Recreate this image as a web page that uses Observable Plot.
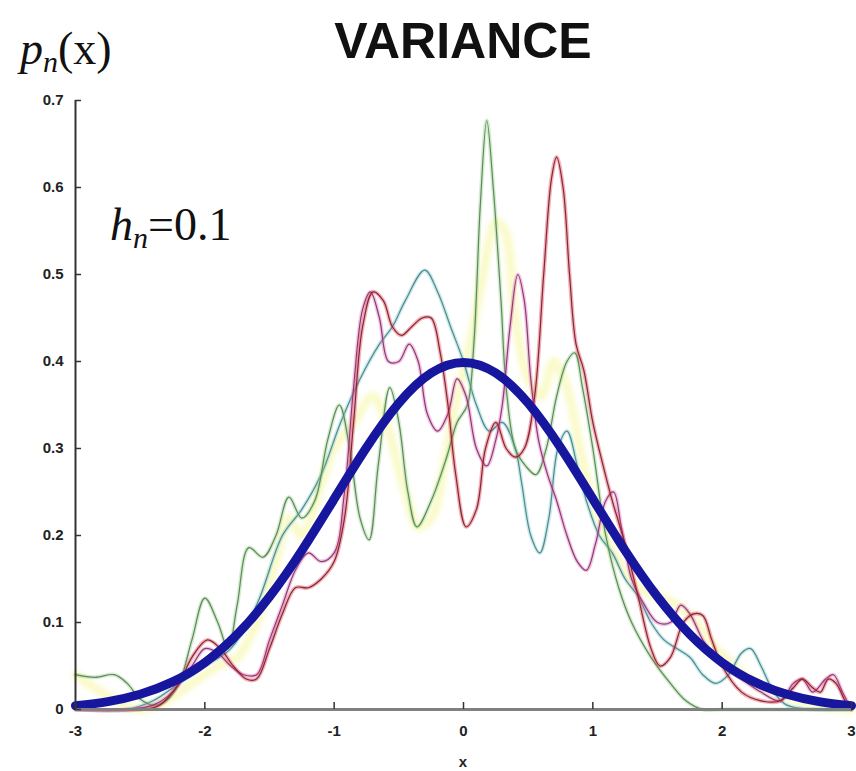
<!DOCTYPE html>
<html><head><meta charset="utf-8">
<script src="https://cdn.jsdelivr.net/npm/d3@7"></script>
<script src="https://cdn.jsdelivr.net/npm/@observablehq/plot@0.6"></script>
<style>
body{margin:0;background:#fff;}
#chart{width:856px;height:771px;}
</style></head><body>
<div id="chart"></div>
<script>
// Axis ticks
const xTicks = [-3, -2, -1, 0, 1, 2, 3];
const yTicks = [0, 0.1, 0.2, 0.3, 0.4, 0.5, 0.6, 0.7];
const titleText = "VARIANCE";
const xLabel = "x";

// True density (thick blue curve)
const xBlue = [-3,-2.75,-2.5,-2.25,-2,-1.75,-1.5,-1.25,-1,-0.75,-0.5,-0.25,0,0.25,0.5,0.75,1,1.25,1.5,1.75,2,2.25,2.5,2.75,3];
const yBlue = [0.0044,0.0091,0.0175,0.0317,0.054,0.0863,0.1295,0.1826,0.242,0.3011,0.3521,0.3867,0.3989,0.3867,0.3521,0.3011,0.242,0.1826,0.1295,0.0863,0.054,0.0317,0.0175,0.0091,0.0044];

// Parzen estimates, h_n = 0.1 (five samples)
const xRed = [-3,-2.5,-2.35,-2.2,-2.1,-1.98,-1.88,-1.78,-1.68,-1.6,-1.5,-1.4,-1.3,-1.2,-1.1,-1,-0.92,-0.85,-0.78,-0.7,-0.62,-0.55,-0.48,-0.4,-0.32,-0.25,-0.18,-0.12,-0.06,0.02,0.1,0.17,0.25,0.33,0.4,0.47,0.55,0.62,0.68,0.72,0.77,0.82,0.87,0.93,1,1.08,1.15,1.25,1.35,1.45,1.52,1.6,1.7,1.78,1.85,1.92,2,2.15,2.3,2.45,2.55,2.62,2.7,2.76,2.82,2.88,2.95,3];
const yRed = [0,0,0.005,0.03,0.06,0.08,0.07,0.05,0.035,0.035,0.07,0.11,0.14,0.14,0.15,0.17,0.22,0.33,0.44,0.48,0.47,0.44,0.43,0.44,0.45,0.45,0.41,0.35,0.27,0.21,0.23,0.3,0.33,0.3,0.29,0.3,0.36,0.5,0.61,0.635,0.6,0.5,0.42,0.39,0.33,0.28,0.24,0.19,0.13,0.07,0.05,0.06,0.1,0.11,0.108,0.08,0.05,0.02,0.01,0.01,0.025,0.035,0.025,0.02,0.035,0.03,0.01,0];

const xMagenta = [-3,-2.6,-2.4,-2.25,-2.1,-2,-1.9,-1.8,-1.7,-1.6,-1.5,-1.4,-1.3,-1.2,-1.1,-1,-0.92,-0.85,-0.78,-0.72,-0.65,-0.58,-0.5,-0.42,-0.35,-0.28,-0.2,-0.12,-0.05,0.02,0.1,0.18,0.25,0.3,0.36,0.42,0.47,0.52,0.58,0.65,0.72,0.8,0.88,0.95,1.02,1.1,1.16,1.22,1.3,1.4,1.5,1.6,1.68,1.75,1.85,1.95,2.05,2.15,2.3,2.45,2.55,2.62,2.7,2.8,2.86,2.93,3];
const yMagenta = [0,0,0.005,0.02,0.05,0.07,0.065,0.05,0.04,0.04,0.08,0.12,0.16,0.18,0.17,0.18,0.25,0.37,0.46,0.48,0.45,0.4,0.4,0.42,0.4,0.34,0.32,0.34,0.38,0.36,0.3,0.28,0.31,0.35,0.44,0.5,0.47,0.38,0.31,0.27,0.24,0.2,0.17,0.16,0.19,0.24,0.25,0.21,0.15,0.12,0.1,0.1,0.12,0.11,0.08,0.06,0.045,0.035,0.02,0.01,0.03,0.035,0.02,0.035,0.04,0.02,0];

const xGreen = [-3,-2.85,-2.7,-2.6,-2.5,-2.4,-2.3,-2.2,-2.1,-2,-1.9,-1.82,-1.75,-1.66,-1.55,-1.45,-1.35,-1.25,-1.15,-1.05,-0.96,-0.88,-0.8,-0.73,-0.66,-0.57,-0.5,-0.43,-0.36,-0.25,-0.13,-0.05,0.03,0.08,0.13,0.18,0.23,0.29,0.33,0.4,0.48,0.56,0.64,0.72,0.8,0.86,0.92,1,1.1,1.2,1.3,1.45,1.6,1.72,1.85,2,2.5,3];
const yGreen = [0.04,0.037,0.04,0.03,0.012,0.005,0.01,0.03,0.08,0.128,0.1,0.07,0.12,0.186,0.175,0.2,0.244,0.22,0.24,0.31,0.35,0.3,0.22,0.195,0.28,0.37,0.33,0.25,0.21,0.24,0.29,0.33,0.35,0.42,0.58,0.677,0.6,0.47,0.37,0.3,0.28,0.27,0.3,0.36,0.4,0.41,0.37,0.3,0.2,0.14,0.1,0.06,0.03,0.01,0,0,0,0];

const xCyan = [-3,-2.6,-2.4,-2.2,-2,-1.8,-1.6,-1.4,-1.25,-1.1,-0.95,-0.8,-0.65,-0.55,-0.45,-0.3,-0.2,-0.1,0,0.1,0.2,0.3,0.4,0.45,0.52,0.59,0.66,0.73,0.8,0.88,0.95,1.05,1.15,1.25,1.35,1.45,1.55,1.65,1.75,1.85,1.95,2.05,2.15,2.22,2.3,2.4,2.5,2.7,3];
const yCyan = [0,0,0.01,0.03,0.05,0.07,0.12,0.2,0.23,0.27,0.33,0.38,0.42,0.44,0.47,0.505,0.48,0.44,0.4,0.35,0.32,0.33,0.3,0.26,0.2,0.18,0.22,0.3,0.32,0.28,0.24,0.2,0.18,0.15,0.13,0.1,0.08,0.07,0.06,0.04,0.03,0.04,0.065,0.07,0.05,0.02,0.005,0,0];

const xYellow = [-3,-2.8,-2.5,-2.3,-2.1,-1.9,-1.75,-1.6,-1.45,-1.35,-1.25,-1.1,-1,-0.85,-0.7,-0.6,-0.45,-0.35,-0.25,-0.15,-0.05,0.05,0.15,0.25,0.32,0.4,0.5,0.6,0.7,0.8,0.9,1,1.1,1.2,1.35,1.5,1.65,1.8,1.95,2.1,2.25,2.4,2.6,3];
const yYellow = [0.04,0.02,0,0.01,0.03,0.05,0.06,0.1,0.17,0.22,0.2,0.26,0.3,0.33,0.36,0.33,0.25,0.21,0.22,0.28,0.36,0.42,0.5,0.56,0.55,0.45,0.38,0.36,0.4,0.37,0.3,0.24,0.2,0.17,0.14,0.13,0.12,0.1,0.07,0.05,0.03,0.02,0.01,0];

const pts = (xs, ys) => xs.map((x, i) => ({x, y: ys[i]}));

const series = [
  {name: "yellow", xs: xYellow, ys: yYellow, halo: "#eef05a", core: null},
  {name: "cyan", xs: xCyan, ys: yCyan, halo: "#72d0d8", core: "#5a8688"},
  {name: "green", xs: xGreen, ys: yGreen, halo: "#8ad482", core: "#66845f"},
  {name: "magenta", xs: xMagenta, ys: yMagenta, halo: "#e070c0", core: "#8a3c70"},
  {name: "red", xs: xRed, ys: yRed, halo: "#e83a52", core: "#7e2a32"}
];

const lineMarks = [];
for (const s of series) {
  if (s.core === null) {
    lineMarks.push(Plot.line(pts(s.xs, s.ys), {x: "x", y: "y", stroke: s.halo, strokeWidth: 9, strokeOpacity: 0.32, curve: "catmull-rom", ariaDescription: "yellow-glow"}));
  } else {
    lineMarks.push(Plot.line(pts(s.xs, s.ys), {x: "x", y: "y", stroke: s.halo, strokeWidth: 4, strokeOpacity: 0.4, curve: "catmull-rom"}));
    lineMarks.push(Plot.line(pts(s.xs, s.ys), {x: "x", y: "y", stroke: s.core, strokeWidth: 1.2, curve: "catmull-rom"}));
  }
}

const chart = Plot.plot({
  width: 856,
  height: 771,
  marginLeft: 75,
  marginRight: 5,
  marginTop: 100,
  marginBottom: 62,
  style: {fontFamily: "'Liberation Sans', Arial, sans-serif", fontSize: "15px", fontWeight: "bold", color: "#222", background: "#fff"},
  x: {domain: [-3, 3], ticks: xTicks, tickSize: 0, tickPadding: 16, tickFormat: d => String(d), label: null},
  y: {domain: [0, 0.7], ticks: yTicks, tickSize: 0, tickPadding: 12, tickFormat: d => d === 0 ? "0" : d3.format(".1f")(d), label: null},
  marks: [
    ...lineMarks,
    Plot.line(pts(xBlue, yBlue), {x: "x", y: "y", stroke: "#16169e", strokeWidth: 9, curve: "natural"}),
    Plot.ruleY([0], {stroke: "#808080", strokeWidth: 3}),
    Plot.ruleX([-3], {stroke: "#333", strokeWidth: 2}),
    Plot.tickY(yTicks, {y: d => d, stroke: "#333", strokeWidth: 1.5, insetRight: 770}),
    Plot.tickX(xTicks, {x: d => d, stroke: "#333", strokeWidth: 1.5, insetTop: 602})
  ]
});
document.getElementById("chart").appendChild(chart);

const svg = d3.select(chart);
svg.selectAll("g[aria-description='yellow-glow']").style("filter", "blur(2.5px)");

// Title
svg.append("text").attr("x", 463).attr("y", 58).attr("text-anchor", "middle")
  .attr("font-family", "'Liberation Sans', Arial, sans-serif").attr("font-weight", "bold")
  .attr("font-size", 50).attr("fill", "#111").text(titleText);

// y-axis label p_n(x)
const yl = svg.append("text").attr("x", 20).attr("y", 64).attr("text-anchor", "start")
  .attr("font-family", "'Liberation Serif', 'DejaVu Serif', serif").attr("font-size", 46).attr("fill", "#111").attr("font-weight", "normal");
yl.append("tspan").attr("font-style", "italic").text("p");
yl.append("tspan").attr("font-style", "italic").attr("font-size", 30).attr("dy", 8).text("n");
yl.append("tspan").attr("dy", -8).text("(x)");

// annotation h_n = 0.1
const ann = svg.append("text").attr("x", 110).attr("y", 240).attr("text-anchor", "start")
  .attr("font-family", "'Liberation Serif', 'DejaVu Serif', serif").attr("font-size", 46).attr("fill", "#111").attr("font-weight", "normal");
ann.append("tspan").attr("font-style", "italic").text("h");
ann.append("tspan").attr("font-style", "italic").attr("font-size", 30).attr("dy", 8).text("n");
ann.append("tspan").attr("dy", -8).text("=0.1");

// x axis label
svg.append("text").attr("x", 463).attr("y", 767).attr("text-anchor", "middle")
  .attr("font-family", "'Liberation Sans', Arial, sans-serif").attr("font-weight", "bold")
  .attr("font-size", 15).attr("fill", "#222").text(xLabel);
</script>
</body></html>
